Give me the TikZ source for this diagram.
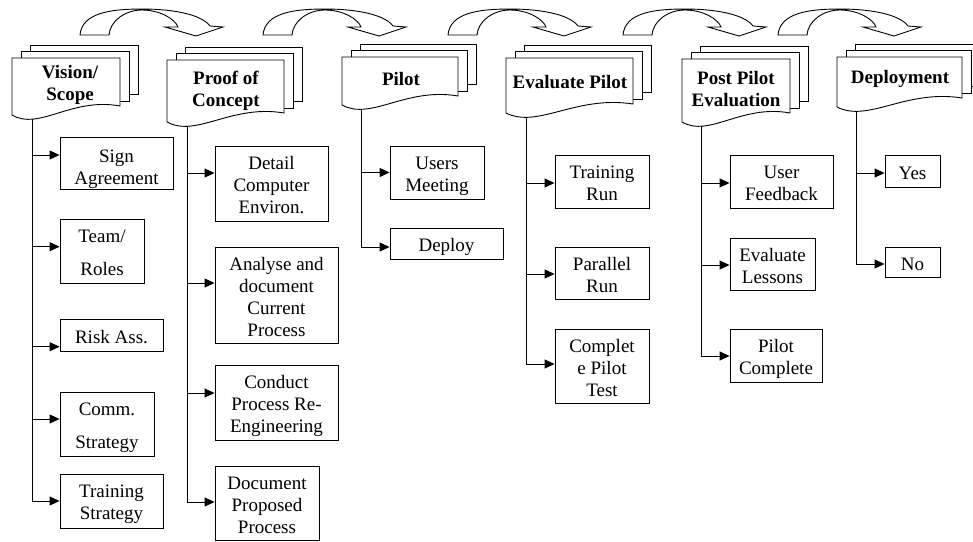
\documentclass[tikz,border=0pt]{standalone}
\usepackage{fontspec}
\setmainfont{Liberation Serif}
\usetikzlibrary{arrows.meta}

\tikzset{
  docpage/.style={draw=black, fill=white, line width=0.9pt, line join=miter},
  headtext/.style={font=\bfseries\fontsize{19}{22}\selectfont, align=center, inner sep=0pt},
  taskbox/.style={draw=black, fill=white, line width=0.9pt, inner sep=0pt,
    font=\fontsize{19}{22}\selectfont},
  branchline/.style={draw=black, line width=0.9pt, -{Triangle[length=10pt,width=9pt]}},
  sweeparrow/.style={draw=black, fill=white, line width=0.9pt, line join=miter},
}

% centred lines of a task label, lowered a little inside its box
% (the box keeps its natural size, so the shift is visible)
\newcommand\cell[2][-4pt]{\raisebox{#1}[\height][\depth]{\begin{tabular}{@{}c@{}}#2\end{tabular}}}

% stack of three pages: left, top, width, height of the front page
\newcommand\docstack[4]{%
  \path[docpage] (#1+18,#2-13) rectangle (#1+18+#3,#2+#4-21);
  \path[docpage] (#1+9,#2-6.5) rectangle (#1+9+#3,#2+#4-14);
  \path[docpage] (#1,#2) -- (#1,#2+#4)
    .. controls (#1+0.25*#3,#2+#4+16) and (#1+0.55*#3,#2+#4-18) .. (#1+#3,#2+#4-9)
    -- (#1+#3,#2) -- cycle;
}

% curved block arrow leading from one phase to the next
\newcommand\sweep[1]{%
  \begin{scope}[shift={(#1,35)}]
    \path[sweeparrow] (0,0) .. controls (2,-22) and (30,-26) .. (62,-26)
      .. controls (95,-26) and (122,-20) .. (130,-9)
      -- (143,-8) -- (116,1) -- (85,-8) -- (98,-8)
      .. controls (95,-16) and (80,-25) .. (62,-25)
      .. controls (45,-25) and (30,-14) .. (29,0) -- cycle;
  \end{scope}}

\begin{document}
\begin{tikzpicture}[x=1pt,y=-1pt]
\useasboundingbox (0,0) rectangle (973,541);

% phase-to-phase arrows
\sweep{80}
\sweep{263}
\sweep{448}
\sweep{623}
\sweep{778}

% phase headers
\docstack{12}{58}{108}{57}
\node[headtext] (vis) at (70,85) {Vision/\\Scope};
\coordinate (vis-foot) at (32,119);

\docstack{167}{60}{117}{62}
\node[headtext] (poc) at (226,91) {Proof of\\Concept};
\coordinate (poc-foot) at (187,126);

\docstack{342}{57}{116}{48}
\node[headtext] (pil) at (401,79) {Pilot};
\coordinate (pil-foot) at (361.5,109);

\docstack{506}{58}{127}{55}
\node[headtext] (evp) at (570,82) {Evaluate Pilot};
\coordinate (evp-foot) at (526,117);

\docstack{682}{59}{108}{63}
\node[headtext] (ppe) at (736,89) {Post Pilot\\Evaluation};
\coordinate (ppe-foot) at (701,126);

\docstack{837}{57}{125}{50}
\node[headtext] (dep) at (900,79) {Deployment};
\coordinate (dep-foot) at (856,111);

% Vision / Scope tasks
\node[taskbox, minimum width=113, minimum height=52] (sign) at (116.5,163) {\cell[-6pt]{Sign\\Agreement}};
\node[taskbox, minimum width=84, minimum height=64] (team) at (102,251) {\cell{Team/\\[11pt]Roles}};
\node[taskbox, minimum width=103, minimum height=32] (risk) at (111.5,335) {\cell{Risk Ass.}};
\node[taskbox, minimum width=94, minimum height=64] (comm) at (107,424) {\cell{Comm.\\[11pt]Strategy}};
\node[taskbox, minimum width=103, minimum height=54] (train) at (111.5,501) {\cell[-3pt]{Training\\Strategy}};

% Proof of Concept tasks
\node[taskbox, minimum width=113, minimum height=75] (detail) at (271.5,183.5) {\cell{Detail\\Computer\\Environ.}};
\node[taskbox, minimum width=123, minimum height=96] (analyse) at (276.5,295) {\cell{Analyse and\\document\\Current\\Process}};
\node[taskbox, minimum width=123, minimum height=75] (conduct) at (276.5,402.5) {\cell{Conduct\\Process Re-\\Engineering}};
\node[taskbox, minimum width=104, minimum height=74] (docprop) at (267,503) {\cell{Document\\Proposed\\Process}};

% Pilot tasks
\node[taskbox, minimum width=94, minimum height=53] (users) at (437,172.5) {\cell{Users\\Meeting}};
\node[taskbox, minimum width=113, minimum height=31] (deploy) at (446.5,243.5) {\cell{Deploy}};

% Evaluate Pilot tasks
\node[taskbox, minimum width=94, minimum height=53] (trainrun) at (602,181.5) {\cell{Training\\Run}};
\node[taskbox, minimum width=94, minimum height=52] (parallel) at (602,273) {\cell{Parallel\\Run}};
\node[taskbox, minimum width=94, minimum height=74] (complete) at (602,366) {\cell{Complet\\e Pilot\\Test}};

% Post Pilot Evaluation tasks
\node[taskbox, minimum width=103, minimum height=53] (userfb) at (781.5,181.5) {\cell{User\\Feedback}};
\node[taskbox, minimum width=85, minimum height=52] (lessons) at (772.5,264) {\cell{Evaluate\\Lessons}};
\node[taskbox, minimum width=92, minimum height=53] (pcomplete) at (776,355.5) {\cell{Pilot\\Complete}};

% Deployment outcomes
\node[taskbox, minimum width=55, minimum height=32] (yes) at (912.5,171) {\cell{Yes}};
\node[taskbox, minimum width=55, minimum height=30] (no) at (912.5,262) {\cell{No}};

% entry points of the branches
\coordinate (sign-in) at ([yshift=8pt]sign.west);
\coordinate (team-in) at ([yshift=4.3pt]team.west);
\coordinate (risk-in) at ([yshift=-11.7pt]risk.west);
\coordinate (comm-in) at ([yshift=5pt]comm.west);
\coordinate (train-in) at (train.west);
\coordinate (detail-in) at ([yshift=10.5pt]detail.west);
\coordinate (analyse-in) at ([yshift=12pt]analyse.west);
\coordinate (conduct-in) at ([yshift=9.5pt]conduct.west);
\coordinate (docprop-in) at ([yshift=1pt]docprop.west);
\coordinate (users-in) at (users.west);
\coordinate (deploy-in) at ([yshift=-3.5pt]deploy.west);
\coordinate (trainrun-in) at ([yshift=-1.5pt]trainrun.west);
\coordinate (parallel-in) at ([yshift=-1pt]parallel.west);
\coordinate (complete-in) at ([yshift=2pt]complete.west);
\coordinate (userfb-in) at ([yshift=-1.5pt]userfb.west);
\coordinate (lessons-in) at ([yshift=-1pt]lessons.west);
\coordinate (pcomplete-in) at ([yshift=-0.5pt]pcomplete.west);
\coordinate (yes-in) at ([yshift=-2pt]yes.west);
\coordinate (no-in) at ([yshift=-2pt]no.west);

% trunks with their branches
\foreach \foot/\list/\last in {
    vis/{sign,team,risk,comm}/train,
    poc/{detail,analyse,conduct}/docprop,
    pil/{users}/deploy,
    evp/{trainrun,parallel}/complete,
    ppe/{userfb,lessons}/pcomplete,
    dep/{yes}/no} {
  \draw[branchline] (\foot-foot) |- (\last-in);
  \foreach \t in \list {
    \draw[branchline] (\foot-foot |- \t-in) -- (\t-in);
  }
}
\end{tikzpicture}
\end{document}
